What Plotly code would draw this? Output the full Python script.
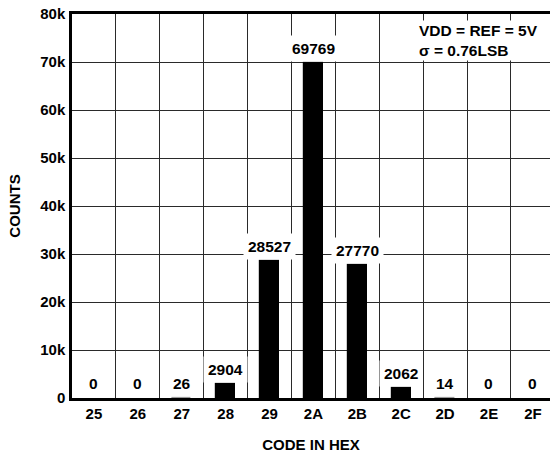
import plotly.graph_objects as go

codes = ["25", "26", "27", "28", "29", "2A", "2B", "2C", "2D", "2E", "2F"]
counts = [0, 0, 26, 2904, 28527, 69769, 27770, 2062, 14, 0, 0]
ytick_vals = [0, 10000, 20000, 30000, 40000, 50000, 60000, 70000, 80000]
ytick_text = ["0", "10k", "20k", "30k", "40k", "50k", "60k", "70k", "80k"]
note_lines = ["VDD = REF = 5V", "σ = 0.76LSB"]

FONT = "Liberation Sans, Arial, sans-serif"
W, H = 550, 456
L, R, T, B = 72, 0, 14, 58
PW, PH = W - L - R, H - T - B

line_colors = ["black" if v >= 1000 else ("#9a9a9a" if v > 0 else "rgba(0,0,0,0)")
               for v in counts]
line_widths = [1.2 if v > 0 else 0 for v in counts]

fig = go.Figure()
fig.add_trace(go.Bar(
    x=codes, y=counts, width=0.44,
    marker=dict(color="black", line=dict(color=line_colors, width=line_widths)),
    hoverinfo="skip",
))

for i, v in enumerate(counts):
    fig.add_annotation(
        x=i, y=v, text=f"<b>{v}</b>", showarrow=False,
        xanchor="center", yanchor="bottom", yshift=1,
        bgcolor="white", borderpad=4,
        font=dict(family=FONT, size=15.5, color="black"),
    )

fig.add_annotation(
    xref="paper", yref="paper",
    x=(417 - L) / PW, y=1 - (20 - T) / PH,
    xanchor="left", yanchor="top", align="left",
    text="<br>".join(f"<b>{s}</b>" for s in note_lines),
    showarrow=False, bgcolor="white", borderpad=1,
    font=dict(family=FONT, size=15.5, color="black"),
)

fig.update_layout(
    width=W, height=H,
    margin=dict(l=L, r=R, t=T, b=B),
    paper_bgcolor="white", plot_bgcolor="white",
    showlegend=False,
    font=dict(family=FONT, size=15, color="black"),
    bargap=0,
)
fig.update_xaxes(
    type="category", range=[-0.5, 10.39], automargin=False,
    tickson="boundaries", ticks="", ticklabelstandoff=0,
    showgrid=True, gridcolor="#2a2a2a", gridwidth=1.2,
    showline=True, linecolor="black", linewidth=2.5, mirror=True,
    tickfont=dict(family=FONT, size=15, color="black", weight="bold"),
    title=dict(text="<b>CODE IN HEX</b>", standoff=19,
               font=dict(family=FONT, size=15, color="black")),
    fixedrange=True,
)
fig.update_yaxes(
    range=[0, 80000], automargin=False,
    tickvals=ytick_vals, ticktext=[f"<b>{t}</b>" for t in ytick_text],
    ticks="", ticklabelstandoff=1, ticklabeloverflow="allow",
    showgrid=True, gridcolor="#2a2a2a", gridwidth=1.2,
    zeroline=False,
    showline=True, linecolor="black", linewidth=2.5, mirror=False,
    tickfont=dict(family=FONT, size=15, color="black"),
    title=dict(text="<b>COUNTS</b>", standoff=16,
               font=dict(family=FONT, size=15, color="black")),
    fixedrange=True,
)

fig.write_html("out.html", config={"displayModeBar": False},
               post_script="document.body.style.margin='0';")
